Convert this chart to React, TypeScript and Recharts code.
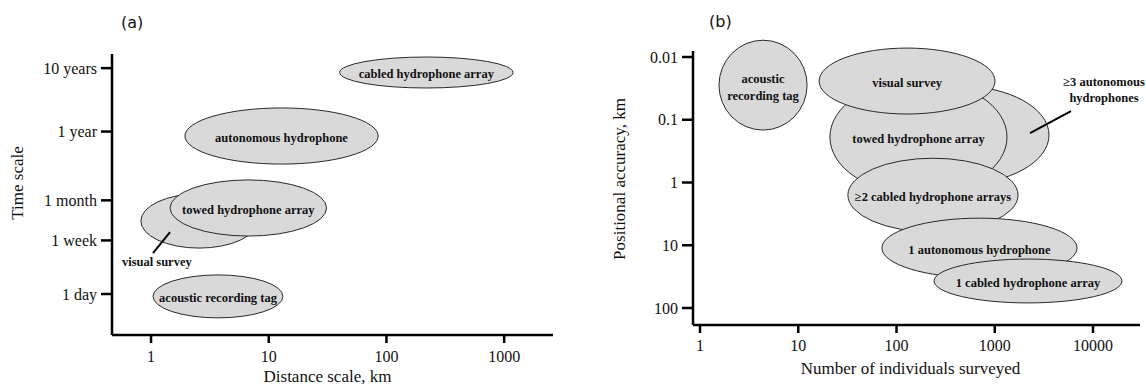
import React from "react";
import { ComposedChart, XAxis, YAxis, ReferenceArea, ReferenceLine, ReferenceDot } from "recharts";

const SERIF = '"Liberation Serif", "Times New Roman", serif';

// ---- panel (a): time scale vs distance scale ----
const distTicks = [1, 10, 100, 1000];
const timeTicks = [1, 7, 30, 365, 3650]; // days
const timeTickLabels = ["1 day", "1 week", "1 month", "1 year", "10 years"];

// drawn in this order (later ones sit on top)
const aText = [[""], ["towed hydrophone array"], ["acoustic recording tag"], ["autonomous hydrophone"], ["cabled hydrophone array"]];
const aDistMin = [0.82, 1.45, 1.04, 1.94, 40];
const aDistMax = [8, 31, 13.2, 85, 1190];
const aTimeMin = [5.3, 8.2, 0.42, 112, 1775];
const aTimeMax = [38, 63, 2.0, 860, 5470];

// callout for the half-hidden "visual survey" ellipse
const aCalloutDist = [1.12];
const aCalloutTime = [3.2];
const aLeaderDist = [1.04, 1.45];
const aLeaderTime = [4.43, 9.5];

// ---- panel (b): positional accuracy vs number of individuals ----
const countTicks = [1, 10, 100, 1000, 10000];
const accTicks = [0.01, 0.1, 1, 10, 100];

const bText = [
  ["acoustic", "recording tag"],
  [""],
  ["towed hydrophone array"],
  ["visual survey"],
  ["\u22652 cabled hydrophone arrays"],
  ["1 autonomous hydrophone"],
  ["1 cabled hydrophone array"],
];
const bCountMin = [1.56, 55, 21, 16.3, 32, 71, 241];
const bCountMax = [12.3, 3565, 1333, 1006, 1725, 6875, 19700];
const bAccMin = [0.0054, 0.029, 0.0233, 0.0072, 0.41, 3.7, 16.6];
const bAccMax = [0.146, 1.06, 1.53, 0.081, 6.15, 33, 83];

const bCalloutCount = [12940];
const bCalloutAcc = [0.0336];
const bLeaderCount = [2285, 5970];
const bLeaderAcc = [0.1626, 0.0727];

const axisLine = { stroke: "#000", strokeWidth: 2.5 };
const tickStyle = { fill: "#111", fontFamily: SERIF, fontSize: 16 };

const ellipseShape = (lines: string[]) => (p: any) => {
  const w = Math.abs(p.width);
  const h = Math.abs(p.height);
  const cx = p.x + w / 2;
  const cy = p.y + h / 2;
  return (
    <g>
      <ellipse cx={cx} cy={cy} rx={w / 2} ry={h / 2} fill="#d9d9d9" stroke="#2a2a2a" strokeWidth={1} />
      {lines.map((t, i) => (
        <text
          key={i}
          x={cx}
          y={cy + 2 + (i - (lines.length - 1) / 2) * 17}
          textAnchor="middle"
          dominantBaseline="central"
          fontFamily={SERIF}
          fontWeight="bold"
          fontSize={12.5}
          fill="#111"
        >
          {t}
        </text>
      ))}
    </g>
  );
};

const calloutShape = (lines: string[]) => (p: any) => (
  <g>
    {lines.map((t, i) => (
      <text
        key={i}
        x={p.cx}
        y={p.cy + (i - (lines.length - 1) / 2) * 16}
        textAnchor="middle"
        dominantBaseline="central"
        fontFamily={SERIF}
        fontWeight="bold"
        fontSize={12.5}
        fill="#111"
      >
        {t}
      </text>
    ))}
  </g>
);

const xTitle = (text: string, dx: number, baseline: number) => (p: any) => {
  const vb = p.viewBox || {};
  return (
    <text x={vb.x + vb.width / 2 + dx} y={vb.y + baseline} textAnchor="middle" fontFamily={SERIF} fontSize={17} fill="#111">
      {text}
    </text>
  );
};

const yTitle = (text: string, x: number, dy: number) => (p: any) => {
  const vb = p.viewBox || {};
  const cx = vb.x + x;
  const cy = vb.y + vb.height / 2 + dy;
  return (
    <text
      x={cx}
      y={cy}
      transform={`rotate(-90, ${cx}, ${cy})`}
      textAnchor="middle"
      dominantBaseline="central"
      fontFamily={SERIF}
      fontSize={17}
      fill="#111"
    >
      {text}
    </text>
  );
};

const panelTag: React.CSSProperties = {
  position: "absolute",
  fontFamily: '"DejaVu Sans", sans-serif',
  fontSize: 16,
  lineHeight: "16px",
  color: "#111",
};

function PanelA() {
  return (
    <ComposedChart width={560} height={387} margin={{ top: 54, right: 7, bottom: 0, left: 0 }}>
      <XAxis
        type="number"
        scale="log"
        dataKey="x"
        domain={[0.466, 2600]}
        allowDataOverflow
        ticks={distTicks}
        interval={0}
        axisLine={axisLine}
        tickLine={axisLine}
        tickSize={8}
        tickMargin={8}
        tick={tickStyle}
        height={52}
        label={{ content: xTitle("Distance scale, km", -5, 47) }}
      />
      <YAxis
        type="number"
        scale="log"
        dataKey="y"
        domain={[0.2256, 6100]}
        allowDataOverflow
        ticks={timeTicks}
        interval={0}
        tickFormatter={(v: number) => timeTickLabels[timeTicks.indexOf(v)] ?? ""}
        axisLine={axisLine}
        tickLine={axisLine}
        tickSize={11}
        tickMargin={4}
        tick={tickStyle}
        width={112}
        label={{ content: yTitle("Time scale", 17, -11.5) }}
      />
      {aText.map((lines, i) => (
        <ReferenceArea
          key={i}
          x1={aDistMin[i]}
          x2={aDistMax[i]}
          y1={aTimeMin[i]}
          y2={aTimeMax[i]}
          ifOverflow="visible"
          shape={ellipseShape(lines)}
        />
      ))}
      <ReferenceLine
        segment={[
          { x: aLeaderDist[0], y: aLeaderTime[0] },
          { x: aLeaderDist[1], y: aLeaderTime[1] },
        ]}
        stroke="#000"
        strokeWidth={2}
        ifOverflow="visible"
      />
      <ReferenceDot
        x={aCalloutDist[0]}
        y={aCalloutTime[0]}
        r={0}
        ifOverflow="visible"
        shape={calloutShape(["visual survey"])}
      />
    </ComposedChart>
  );
}

function PanelB() {
  return (
    <ComposedChart width={586} height={387} margin={{ top: 51, right: 6, bottom: 0, left: 0 }}>
      <XAxis
        type="number"
        scale="log"
        dataKey="x"
        domain={[0.8487, 30070]}
        allowDataOverflow
        ticks={countTicks}
        interval={0}
        axisLine={axisLine}
        tickLine={axisLine}
        tickSize={8}
        tickMargin={7}
        tick={tickStyle}
        height={62}
        label={{ content: xTitle("Number of individuals surveyed", -6, 49) }}
      />
      <YAxis
        type="number"
        scale="log"
        dataKey="y"
        reversed
        domain={[0.00802, 186.6]}
        allowDataOverflow
        ticks={accTicks}
        interval={0}
        axisLine={axisLine}
        tickLine={axisLine}
        tickSize={11}
        tickMargin={4}
        tick={tickStyle}
        width={133}
        label={{ content: yTitle("Positional accuracy, km", 59, -9) }}
      />
      {bText.map((lines, i) => (
        <ReferenceArea
          key={i}
          x1={bCountMin[i]}
          x2={bCountMax[i]}
          y1={bAccMin[i]}
          y2={bAccMax[i]}
          ifOverflow="visible"
          shape={ellipseShape(lines)}
        />
      ))}
      <ReferenceLine
        segment={[
          { x: bLeaderCount[0], y: bLeaderAcc[0] },
          { x: bLeaderCount[1], y: bLeaderAcc[1] },
        ]}
        stroke="#000"
        strokeWidth={2}
        ifOverflow="visible"
      />
      <ReferenceDot
        x={bCalloutCount[0]}
        y={bCalloutAcc[0]}
        r={0}
        ifOverflow="visible"
        shape={calloutShape(["\u22653 autonomous", "hydrophones"])}
      />
    </ComposedChart>
  );
}

export default function App() {
  return (
    <div style={{ position: "absolute", left: 0, top: 0, width: 1146, height: 387, background: "#fff" }}>
      <div style={{ position: "absolute", left: 0, top: 0 }}>
        <PanelA />
      </div>
      <div style={{ position: "absolute", left: 560, top: 0 }}>
        <PanelB />
      </div>
      <span style={{ ...panelTag, left: 121, top: 15 }}>(a)</span>
      <span style={{ ...panelTag, left: 709, top: 14 }}>(b)</span>
    </div>
  );
}
